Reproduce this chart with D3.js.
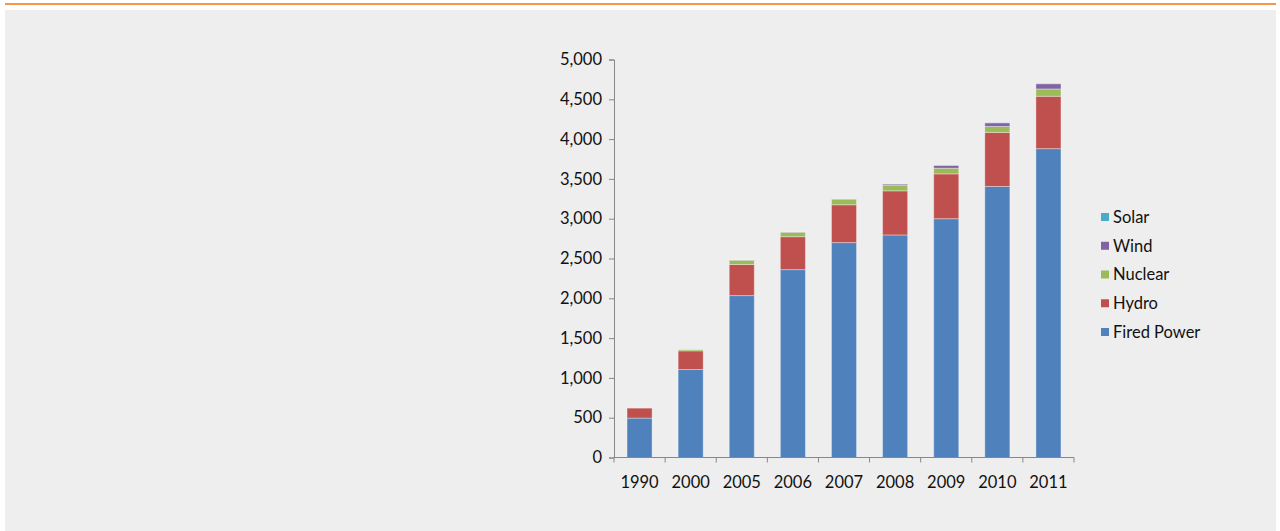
<!DOCTYPE html>
<html>
<head>
<meta charset="utf-8">
<script src="https://cdn.jsdelivr.net/npm/d3@7"></script>
<style>
  html, body { margin: 0; padding: 0; background: #fff; }
  svg { display: block; }
</style>
</head>
<body>
<div id="chart"></div>
<script>
// years on the x axis
const years = ['1990', '2000', '2005', '2006', '2007', '2008', '2009', '2010', '2011'];

// generation by source (stack order bottom -> top)
const firedPower = [495, 1105, 2034, 2360, 2700, 2796, 3000, 3405, 3880];
const hydro      = [125, 235, 391, 414, 475, 554, 563, 679, 658];
const nuclear    = [0, 17, 53, 55, 67, 71, 71, 75, 92];
const wind       = [0, 1, 2, 3, 5, 13, 34, 46, 66];
const solar      = [0, 0, 0, 0, 0, 0, 0, 1, 2];

const yTicks = [0, 500, 1000, 1500, 2000, 2500, 3000, 3500, 4000, 4500, 5000];

const seriesNames  = ['Fired Power', 'Hydro', 'Nuclear', 'Wind', 'Solar'];
const seriesColors = ['#4F81BD', '#C0504D', '#9BBB59', '#8064A2', '#4BACC6'];
const seriesValues = [firedPower, hydro, nuclear, wind, solar];

const W = 1280, H = 531;
const font = 'Lato, "Open Sans", sans-serif';
const fontSize = '16.5px';

const svg = d3.select('#chart').append('svg')
  .attr('width', W)
  .attr('height', H);

// orange rule + grey panel
svg.append('rect')
  .attr('x', 5).attr('y', 3).attr('width', 1271).attr('height', 2)
  .attr('fill', '#F79646');
svg.append('rect')
  .attr('x', 5).attr('y', 10).attr('width', 1271).attr('height', 521)
  .attr('fill', '#EEEEEE');

// plot area
const plotLeft = 614, plotRight = 1074, plotTop = 59.5, plotBottom = 457.5;

const x = d3.scaleBand()
  .domain(years)
  .range([plotLeft, plotRight])
  .paddingInner(0.51)
  .paddingOuter(0.255);

const y = d3.scaleLinear()
  .domain([0, 5000])
  .range([plotBottom, plotTop]);

const rows = years.map((yr, i) => {
  const r = { year: yr };
  seriesNames.forEach((n, k) => { r[n] = seriesValues[k][i]; });
  return r;
});

const stacked = d3.stack().keys(seriesNames)(rows);

// bars
svg.append('g')
  .selectAll('g')
  .data(stacked)
  .enter()
  .append('g')
  .attr('fill', (d, i) => seriesColors[i])
  .selectAll('rect')
  .data(d => d.filter(s => s[1] - s[0] > 0))
  .enter()
  .append('rect')
  .attr('x', d => x(d.data.year))
  .attr('width', x.bandwidth())
  .attr('y', d => y(d[1]))
  .attr('height', d => y(d[0]) - y(d[1]))
  .attr('stroke', 'rgba(255,255,255,0.35)')
  .attr('stroke-width', 1);

// y axis
const yAxis = svg.append('g')
  .attr('transform', `translate(${plotLeft},0)`)
  .call(d3.axisLeft(y)
    .tickValues(yTicks)
    .tickSize(5)
    .tickPadding(7)
    .tickFormat(d3.format(',')));

// x axis: ticks at category boundaries
const boundaries = d3.range(years.length + 1).map(i => plotLeft + i * (plotRight - plotLeft) / years.length);
const xAxis = svg.append('g')
  .attr('transform', `translate(0,${plotBottom})`);
xAxis.append('line')
  .attr('x1', plotLeft).attr('x2', plotRight)
  .attr('y1', 0).attr('y2', 0);
xAxis.selectAll('.tk')
  .data(boundaries)
  .enter()
  .append('line')
  .attr('class', 'tk')
  .attr('x1', d => d).attr('x2', d => d)
  .attr('y1', 0).attr('y2', 5);
xAxis.selectAll('text')
  .data(years)
  .enter()
  .append('text')
  .attr('x', d => x(d) + x.bandwidth() / 2)
  .attr('y', 30)
  .attr('text-anchor', 'middle')
  .text(d => d);

xAxis.selectAll('line').attr('stroke', '#878787').attr('stroke-width', 1);
yAxis.select('.domain').attr('stroke', '#878787');
yAxis.selectAll('.tick line').attr('stroke', '#878787');

svg.selectAll('text')
  .style('font-family', font)
  .style('font-size', fontSize)
  .attr('fill', '#111');

// legend (top to bottom: Solar ... Fired Power)
const legend = svg.append('g')
  .attr('transform', 'translate(1101,217)');

const legendItems = seriesNames.slice().reverse();
const legendColors = seriesColors.slice().reverse();

legendItems.forEach((name, i) => {
  const g = legend.append('g').attr('transform', `translate(0,${i * 28.75})`);
  g.append('rect')
    .attr('x', 0).attr('y', -4)
    .attr('width', 8).attr('height', 8)
    .attr('fill', legendColors[i]);
  g.append('text')
    .attr('x', 12)
    .attr('y', 0)
    .attr('dy', '0.35em')
    .style('font-family', font)
    .style('font-size', fontSize)
    .attr('fill', '#111')
    .text(name);
});
</script>
</body>
</html>
